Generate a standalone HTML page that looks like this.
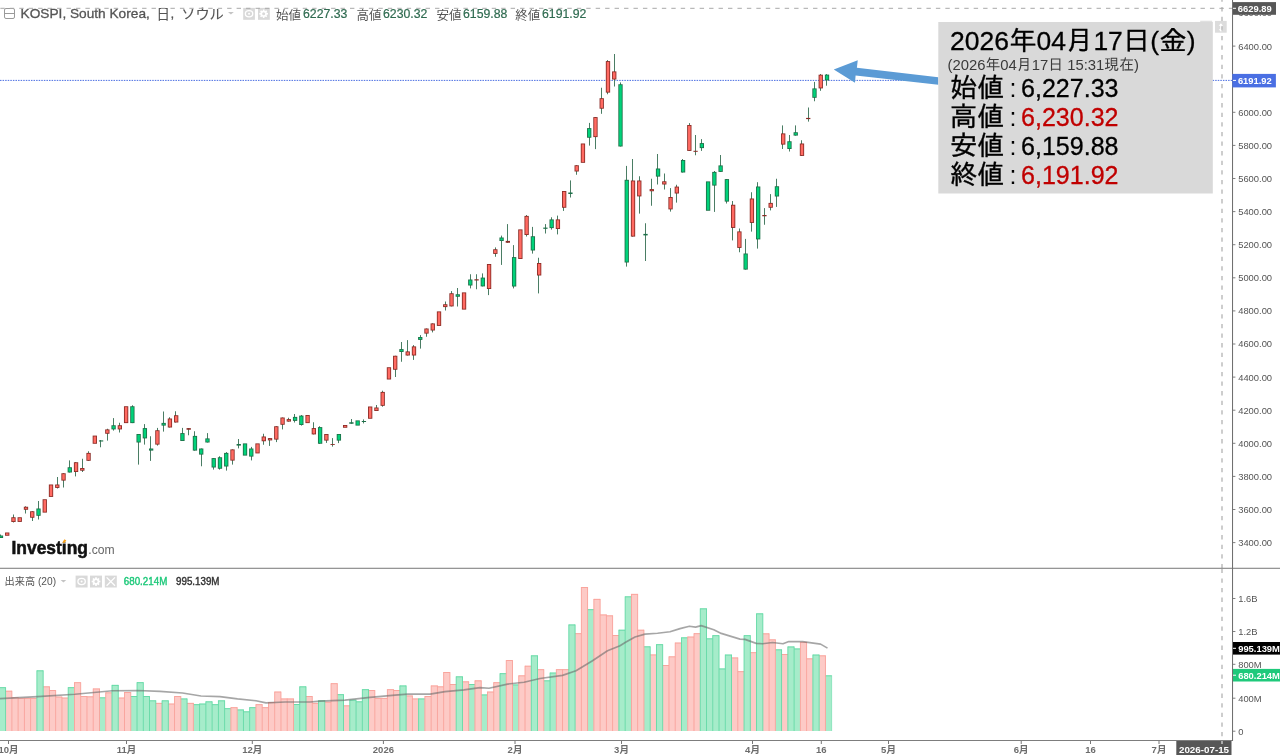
<!DOCTYPE html>
<html lang="ja"><head><meta charset="utf-8"><title>KOSPI</title>
<style>
html,body{margin:0;padding:0;background:#fff;}
body{width:1280px;height:755px;overflow:hidden;position:relative;font-family:"Liberation Sans","Noto Sans CJK JP",sans-serif;}
svg{position:absolute;left:0;top:0;display:block}
text{font-family:"Liberation Sans","Noto Sans CJK JP",sans-serif;}
.ax{font-size:9.4px;fill:#555}
.axb{font-size:9.4px;fill:#fff;font-weight:bold}
.tm{font-size:9.5px;fill:#6c6c6c;font-weight:bold;text-anchor:middle}
.lg{font-size:13.4px;fill:#555;stroke:#555;stroke-width:0.3px}
.lgk{font-size:12.4px;fill:#555}
.lgv{font-size:12px;fill:#2f6b50;stroke:#2f6b50;stroke-width:0.2px}
.box text{font-family:"Liberation Sans","IPAGothic",sans-serif;fill:#000}
.hv{stroke:currentColor;stroke-width:0.35px}
.k{font-family:"IPAGothic","Liberation Sans",sans-serif}
</style></head><body>
<svg width="1280" height="755" viewBox="0 0 1280 755">
<rect width="1280" height="755" fill="#fff"/>

<g id="vol">
<rect x="-0.65" y="687.25" width="6.26" height="43.75" fill="#a6ecca"/>
<rect x="5.61" y="690.75" width="6.26" height="40.25" fill="#fdcac6"/>
<rect x="11.87" y="697.40" width="6.26" height="33.60" fill="#fdcac6"/>
<rect x="18.12" y="697.90" width="6.26" height="33.10" fill="#fdcac6"/>
<rect x="24.38" y="697.90" width="6.26" height="33.10" fill="#fdcac6"/>
<rect x="30.64" y="697.90" width="6.26" height="33.10" fill="#fdcac6"/>
<rect x="36.90" y="670.40" width="6.26" height="60.60" fill="#a6ecca"/>
<rect x="43.16" y="686.40" width="6.26" height="44.60" fill="#fdcac6"/>
<rect x="49.41" y="690.10" width="6.26" height="40.90" fill="#fdcac6"/>
<rect x="55.67" y="696.60" width="6.26" height="34.40" fill="#fdcac6"/>
<rect x="61.93" y="697.60" width="6.26" height="33.40" fill="#fdcac6"/>
<rect x="68.19" y="687.25" width="6.26" height="43.75" fill="#a6ecca"/>
<rect x="74.45" y="682.25" width="6.26" height="48.75" fill="#fdcac6"/>
<rect x="80.70" y="696.00" width="6.26" height="35.00" fill="#fdcac6"/>
<rect x="86.96" y="696.40" width="6.26" height="34.60" fill="#fdcac6"/>
<rect x="93.22" y="688.50" width="6.26" height="42.50" fill="#fdcac6"/>
<rect x="99.48" y="697.40" width="6.26" height="33.60" fill="#a6ecca"/>
<rect x="105.74" y="692.40" width="6.26" height="38.60" fill="#fdcac6"/>
<rect x="111.99" y="684.90" width="6.26" height="46.10" fill="#a6ecca"/>
<rect x="118.25" y="697.60" width="6.26" height="33.40" fill="#fdcac6"/>
<rect x="124.51" y="692.00" width="6.26" height="39.00" fill="#fdcac6"/>
<rect x="130.77" y="696.10" width="6.26" height="34.90" fill="#a6ecca"/>
<rect x="137.03" y="682.25" width="6.26" height="48.75" fill="#a6ecca"/>
<rect x="143.28" y="696.10" width="6.26" height="34.90" fill="#a6ecca"/>
<rect x="149.54" y="700.40" width="6.26" height="30.60" fill="#a6ecca"/>
<rect x="155.80" y="702.90" width="6.26" height="28.10" fill="#fdcac6"/>
<rect x="162.06" y="700.40" width="6.26" height="30.60" fill="#a6ecca"/>
<rect x="168.32" y="703.60" width="6.26" height="27.40" fill="#fdcac6"/>
<rect x="174.57" y="696.10" width="6.26" height="34.90" fill="#fdcac6"/>
<rect x="180.83" y="698.50" width="6.26" height="32.50" fill="#a6ecca"/>
<rect x="187.09" y="702.90" width="6.26" height="28.10" fill="#fdcac6"/>
<rect x="193.35" y="704.25" width="6.26" height="26.75" fill="#a6ecca"/>
<rect x="199.61" y="703.60" width="6.26" height="27.40" fill="#a6ecca"/>
<rect x="205.86" y="701.40" width="6.26" height="29.60" fill="#a6ecca"/>
<rect x="212.12" y="704.25" width="6.26" height="26.75" fill="#a6ecca"/>
<rect x="218.38" y="700.40" width="6.26" height="30.60" fill="#a6ecca"/>
<rect x="224.64" y="708.25" width="6.26" height="22.75" fill="#a6ecca"/>
<rect x="230.90" y="707.25" width="6.26" height="23.75" fill="#fdcac6"/>
<rect x="237.15" y="709.50" width="6.26" height="21.50" fill="#a6ecca"/>
<rect x="243.41" y="711.40" width="6.26" height="19.60" fill="#a6ecca"/>
<rect x="249.67" y="707.25" width="6.26" height="23.75" fill="#a6ecca"/>
<rect x="255.93" y="704.25" width="6.26" height="26.75" fill="#fdcac6"/>
<rect x="262.19" y="707.25" width="6.26" height="23.75" fill="#fdcac6"/>
<rect x="268.44" y="702.00" width="6.26" height="29.00" fill="#fdcac6"/>
<rect x="274.70" y="691.60" width="6.26" height="39.40" fill="#fdcac6"/>
<rect x="280.96" y="698.50" width="6.26" height="32.50" fill="#fdcac6"/>
<rect x="287.22" y="698.50" width="6.26" height="32.50" fill="#fdcac6"/>
<rect x="293.48" y="704.10" width="6.26" height="26.90" fill="#a6ecca"/>
<rect x="299.73" y="686.40" width="6.26" height="44.60" fill="#a6ecca"/>
<rect x="305.99" y="696.10" width="6.26" height="34.90" fill="#fdcac6"/>
<rect x="312.25" y="702.90" width="6.26" height="28.10" fill="#fdcac6"/>
<rect x="318.51" y="700.40" width="6.26" height="30.60" fill="#a6ecca"/>
<rect x="324.77" y="701.75" width="6.26" height="29.25" fill="#fdcac6"/>
<rect x="331.02" y="683.25" width="6.26" height="47.75" fill="#fdcac6"/>
<rect x="337.28" y="694.25" width="6.26" height="36.75" fill="#a6ecca"/>
<rect x="343.54" y="705.40" width="6.26" height="25.60" fill="#fdcac6"/>
<rect x="349.80" y="699.75" width="6.26" height="31.25" fill="#a6ecca"/>
<rect x="356.06" y="701.40" width="6.26" height="29.60" fill="#a6ecca"/>
<rect x="362.31" y="689.25" width="6.26" height="41.75" fill="#a6ecca"/>
<rect x="368.57" y="690.10" width="6.26" height="40.90" fill="#fdcac6"/>
<rect x="374.83" y="697.90" width="6.26" height="33.10" fill="#fdcac6"/>
<rect x="381.09" y="697.90" width="6.26" height="33.10" fill="#fdcac6"/>
<rect x="387.35" y="689.25" width="6.26" height="41.75" fill="#fdcac6"/>
<rect x="393.60" y="690.10" width="6.26" height="40.90" fill="#fdcac6"/>
<rect x="399.86" y="685.50" width="6.26" height="45.50" fill="#a6ecca"/>
<rect x="406.12" y="695.50" width="6.26" height="35.50" fill="#fdcac6"/>
<rect x="412.38" y="698.50" width="6.26" height="32.50" fill="#fdcac6"/>
<rect x="418.64" y="698.50" width="6.26" height="32.50" fill="#a6ecca"/>
<rect x="424.89" y="696.10" width="6.26" height="34.90" fill="#fdcac6"/>
<rect x="431.15" y="685.50" width="6.26" height="45.50" fill="#fdcac6"/>
<rect x="437.41" y="686.40" width="6.26" height="44.60" fill="#fdcac6"/>
<rect x="443.67" y="672.00" width="6.26" height="59.00" fill="#fdcac6"/>
<rect x="449.93" y="684.10" width="6.26" height="46.90" fill="#fdcac6"/>
<rect x="456.18" y="676.40" width="6.26" height="54.60" fill="#a6ecca"/>
<rect x="462.44" y="681.40" width="6.26" height="49.60" fill="#fdcac6"/>
<rect x="468.70" y="684.10" width="6.26" height="46.90" fill="#a6ecca"/>
<rect x="474.96" y="680.40" width="6.26" height="50.60" fill="#fdcac6"/>
<rect x="481.22" y="694.50" width="6.26" height="36.50" fill="#a6ecca"/>
<rect x="487.47" y="691.60" width="6.26" height="39.40" fill="#fdcac6"/>
<rect x="493.73" y="682.25" width="6.26" height="48.75" fill="#fdcac6"/>
<rect x="499.99" y="673.25" width="6.26" height="57.75" fill="#a6ecca"/>
<rect x="506.25" y="660.10" width="6.26" height="70.90" fill="#fdcac6"/>
<rect x="512.51" y="684.50" width="6.26" height="46.50" fill="#a6ecca"/>
<rect x="518.76" y="675.40" width="6.26" height="55.60" fill="#fdcac6"/>
<rect x="525.02" y="665.75" width="6.26" height="65.25" fill="#fdcac6"/>
<rect x="531.28" y="655.40" width="6.26" height="75.60" fill="#a6ecca"/>
<rect x="537.54" y="669.25" width="6.26" height="61.75" fill="#fdcac6"/>
<rect x="543.80" y="680.40" width="6.26" height="50.60" fill="#a6ecca"/>
<rect x="550.05" y="672.60" width="6.26" height="58.40" fill="#a6ecca"/>
<rect x="556.31" y="669.25" width="6.26" height="61.75" fill="#fdcac6"/>
<rect x="562.57" y="669.25" width="6.26" height="61.75" fill="#fdcac6"/>
<rect x="568.83" y="624.50" width="6.26" height="106.50" fill="#a6ecca"/>
<rect x="575.09" y="633.25" width="6.26" height="97.75" fill="#fdcac6"/>
<rect x="581.34" y="587.00" width="6.26" height="144.00" fill="#fdcac6"/>
<rect x="587.60" y="609.25" width="6.26" height="121.75" fill="#a6ecca"/>
<rect x="593.86" y="598.90" width="6.26" height="132.10" fill="#fdcac6"/>
<rect x="600.12" y="614.50" width="6.26" height="116.50" fill="#fdcac6"/>
<rect x="606.38" y="615.40" width="6.26" height="115.60" fill="#fdcac6"/>
<rect x="612.63" y="635.10" width="6.26" height="95.90" fill="#fdcac6"/>
<rect x="618.89" y="629.75" width="6.26" height="101.25" fill="#a6ecca"/>
<rect x="625.15" y="596.40" width="6.26" height="134.60" fill="#a6ecca"/>
<rect x="631.41" y="593.90" width="6.26" height="137.10" fill="#fdcac6"/>
<rect x="637.67" y="629.75" width="6.26" height="101.25" fill="#fdcac6"/>
<rect x="643.92" y="646.40" width="6.26" height="84.60" fill="#a6ecca"/>
<rect x="650.18" y="654.50" width="6.26" height="76.50" fill="#fdcac6"/>
<rect x="656.44" y="644.25" width="6.26" height="86.75" fill="#a6ecca"/>
<rect x="662.70" y="665.10" width="6.26" height="65.90" fill="#fdcac6"/>
<rect x="668.96" y="656.40" width="6.26" height="74.60" fill="#fdcac6"/>
<rect x="675.21" y="642.60" width="6.26" height="88.40" fill="#fdcac6"/>
<rect x="681.47" y="637.40" width="6.26" height="93.60" fill="#a6ecca"/>
<rect x="687.73" y="636.60" width="6.26" height="94.40" fill="#fdcac6"/>
<rect x="693.99" y="633.25" width="6.26" height="97.75" fill="#fdcac6"/>
<rect x="700.25" y="608.40" width="6.26" height="122.60" fill="#a6ecca"/>
<rect x="706.50" y="638.40" width="6.26" height="92.60" fill="#a6ecca"/>
<rect x="712.76" y="635.25" width="6.26" height="95.75" fill="#a6ecca"/>
<rect x="719.02" y="668.50" width="6.26" height="62.50" fill="#a6ecca"/>
<rect x="725.28" y="654.60" width="6.26" height="76.40" fill="#a6ecca"/>
<rect x="731.54" y="657.50" width="6.26" height="73.50" fill="#fdcac6"/>
<rect x="737.79" y="671.25" width="6.26" height="59.75" fill="#fdcac6"/>
<rect x="744.05" y="635.25" width="6.26" height="95.75" fill="#a6ecca"/>
<rect x="750.31" y="652.25" width="6.26" height="78.75" fill="#fdcac6"/>
<rect x="756.57" y="613.40" width="6.26" height="117.60" fill="#a6ecca"/>
<rect x="762.83" y="633.40" width="6.26" height="97.60" fill="#fdcac6"/>
<rect x="769.08" y="639.40" width="6.26" height="91.60" fill="#fdcac6"/>
<rect x="775.34" y="649.40" width="6.26" height="81.60" fill="#a6ecca"/>
<rect x="781.60" y="654.10" width="6.26" height="76.90" fill="#fdcac6"/>
<rect x="787.86" y="646.50" width="6.26" height="84.50" fill="#a6ecca"/>
<rect x="794.12" y="648.50" width="6.26" height="82.50" fill="#a6ecca"/>
<rect x="800.37" y="641.90" width="6.26" height="89.10" fill="#fdcac6"/>
<rect x="806.63" y="658.40" width="6.26" height="72.60" fill="#fdcac6"/>
<rect x="812.89" y="654.60" width="6.26" height="76.40" fill="#a6ecca"/>
<rect x="819.15" y="655.40" width="6.26" height="75.60" fill="#fdcac6"/>
<rect x="825.41" y="675.40" width="6.26" height="55.60" fill="#a6ecca"/>
<rect x="-0.65" y="687.25" width="6.26" height="0.9" fill="#62d9a5"/>
<rect x="-1.10" y="687.25" width="0.9" height="43.75" fill="#62d9a5"/>
<rect x="5.61" y="690.75" width="6.26" height="0.9" fill="#f9a199"/>
<rect x="5.16" y="687.25" width="0.9" height="43.75" fill="#62d9a5"/>
<rect x="11.87" y="697.40" width="6.26" height="0.9" fill="#f9a199"/>
<rect x="11.42" y="690.75" width="0.9" height="40.25" fill="#f9a199"/>
<rect x="18.12" y="697.90" width="6.26" height="0.9" fill="#f9a199"/>
<rect x="17.67" y="697.40" width="0.9" height="33.60" fill="#f9a199"/>
<rect x="24.38" y="697.90" width="6.26" height="0.9" fill="#f9a199"/>
<rect x="23.93" y="697.90" width="0.9" height="33.10" fill="#f9a199"/>
<rect x="30.64" y="697.90" width="6.26" height="0.9" fill="#f9a199"/>
<rect x="30.19" y="697.90" width="0.9" height="33.10" fill="#f9a199"/>
<rect x="36.90" y="670.40" width="6.26" height="0.9" fill="#62d9a5"/>
<rect x="36.45" y="670.40" width="0.9" height="60.60" fill="#62d9a5"/>
<rect x="43.16" y="686.40" width="6.26" height="0.9" fill="#f9a199"/>
<rect x="42.71" y="670.40" width="0.9" height="60.60" fill="#62d9a5"/>
<rect x="49.41" y="690.10" width="6.26" height="0.9" fill="#f9a199"/>
<rect x="48.96" y="686.40" width="0.9" height="44.60" fill="#f9a199"/>
<rect x="55.67" y="696.60" width="6.26" height="0.9" fill="#f9a199"/>
<rect x="55.22" y="690.10" width="0.9" height="40.90" fill="#f9a199"/>
<rect x="61.93" y="697.60" width="6.26" height="0.9" fill="#f9a199"/>
<rect x="61.48" y="696.60" width="0.9" height="34.40" fill="#f9a199"/>
<rect x="68.19" y="687.25" width="6.26" height="0.9" fill="#62d9a5"/>
<rect x="67.74" y="687.25" width="0.9" height="43.75" fill="#62d9a5"/>
<rect x="74.45" y="682.25" width="6.26" height="0.9" fill="#f9a199"/>
<rect x="74.00" y="682.25" width="0.9" height="48.75" fill="#f9a199"/>
<rect x="80.70" y="696.00" width="6.26" height="0.9" fill="#f9a199"/>
<rect x="80.25" y="682.25" width="0.9" height="48.75" fill="#f9a199"/>
<rect x="86.96" y="696.40" width="6.26" height="0.9" fill="#f9a199"/>
<rect x="86.51" y="696.00" width="0.9" height="35.00" fill="#f9a199"/>
<rect x="93.22" y="688.50" width="6.26" height="0.9" fill="#f9a199"/>
<rect x="92.77" y="688.50" width="0.9" height="42.50" fill="#f9a199"/>
<rect x="99.48" y="697.40" width="6.26" height="0.9" fill="#62d9a5"/>
<rect x="99.03" y="688.50" width="0.9" height="42.50" fill="#f9a199"/>
<rect x="105.74" y="692.40" width="6.26" height="0.9" fill="#f9a199"/>
<rect x="105.29" y="692.40" width="0.9" height="38.60" fill="#f9a199"/>
<rect x="111.99" y="684.90" width="6.26" height="0.9" fill="#62d9a5"/>
<rect x="111.54" y="684.90" width="0.9" height="46.10" fill="#62d9a5"/>
<rect x="118.25" y="697.60" width="6.26" height="0.9" fill="#f9a199"/>
<rect x="117.80" y="684.90" width="0.9" height="46.10" fill="#62d9a5"/>
<rect x="124.51" y="692.00" width="6.26" height="0.9" fill="#f9a199"/>
<rect x="124.06" y="692.00" width="0.9" height="39.00" fill="#f9a199"/>
<rect x="130.77" y="696.10" width="6.26" height="0.9" fill="#62d9a5"/>
<rect x="130.32" y="692.00" width="0.9" height="39.00" fill="#f9a199"/>
<rect x="137.03" y="682.25" width="6.26" height="0.9" fill="#62d9a5"/>
<rect x="136.58" y="682.25" width="0.9" height="48.75" fill="#62d9a5"/>
<rect x="143.28" y="696.10" width="6.26" height="0.9" fill="#62d9a5"/>
<rect x="142.83" y="682.25" width="0.9" height="48.75" fill="#62d9a5"/>
<rect x="149.54" y="700.40" width="6.26" height="0.9" fill="#62d9a5"/>
<rect x="149.09" y="696.10" width="0.9" height="34.90" fill="#62d9a5"/>
<rect x="155.80" y="702.90" width="6.26" height="0.9" fill="#f9a199"/>
<rect x="155.35" y="700.40" width="0.9" height="30.60" fill="#62d9a5"/>
<rect x="162.06" y="700.40" width="6.26" height="0.9" fill="#62d9a5"/>
<rect x="161.61" y="700.40" width="0.9" height="30.60" fill="#62d9a5"/>
<rect x="168.32" y="703.60" width="6.26" height="0.9" fill="#f9a199"/>
<rect x="167.87" y="700.40" width="0.9" height="30.60" fill="#62d9a5"/>
<rect x="174.57" y="696.10" width="6.26" height="0.9" fill="#f9a199"/>
<rect x="174.12" y="696.10" width="0.9" height="34.90" fill="#f9a199"/>
<rect x="180.83" y="698.50" width="6.26" height="0.9" fill="#62d9a5"/>
<rect x="180.38" y="696.10" width="0.9" height="34.90" fill="#f9a199"/>
<rect x="187.09" y="702.90" width="6.26" height="0.9" fill="#f9a199"/>
<rect x="186.64" y="698.50" width="0.9" height="32.50" fill="#62d9a5"/>
<rect x="193.35" y="704.25" width="6.26" height="0.9" fill="#62d9a5"/>
<rect x="192.90" y="702.90" width="0.9" height="28.10" fill="#f9a199"/>
<rect x="199.61" y="703.60" width="6.26" height="0.9" fill="#62d9a5"/>
<rect x="199.16" y="703.60" width="0.9" height="27.40" fill="#62d9a5"/>
<rect x="205.86" y="701.40" width="6.26" height="0.9" fill="#62d9a5"/>
<rect x="205.41" y="701.40" width="0.9" height="29.60" fill="#62d9a5"/>
<rect x="212.12" y="704.25" width="6.26" height="0.9" fill="#62d9a5"/>
<rect x="211.67" y="701.40" width="0.9" height="29.60" fill="#62d9a5"/>
<rect x="218.38" y="700.40" width="6.26" height="0.9" fill="#62d9a5"/>
<rect x="217.93" y="700.40" width="0.9" height="30.60" fill="#62d9a5"/>
<rect x="224.64" y="708.25" width="6.26" height="0.9" fill="#62d9a5"/>
<rect x="224.19" y="700.40" width="0.9" height="30.60" fill="#62d9a5"/>
<rect x="230.90" y="707.25" width="6.26" height="0.9" fill="#f9a199"/>
<rect x="230.45" y="707.25" width="0.9" height="23.75" fill="#f9a199"/>
<rect x="237.15" y="709.50" width="6.26" height="0.9" fill="#62d9a5"/>
<rect x="236.70" y="707.25" width="0.9" height="23.75" fill="#f9a199"/>
<rect x="243.41" y="711.40" width="6.26" height="0.9" fill="#62d9a5"/>
<rect x="242.96" y="709.50" width="0.9" height="21.50" fill="#62d9a5"/>
<rect x="249.67" y="707.25" width="6.26" height="0.9" fill="#62d9a5"/>
<rect x="249.22" y="707.25" width="0.9" height="23.75" fill="#62d9a5"/>
<rect x="255.93" y="704.25" width="6.26" height="0.9" fill="#f9a199"/>
<rect x="255.48" y="704.25" width="0.9" height="26.75" fill="#f9a199"/>
<rect x="262.19" y="707.25" width="6.26" height="0.9" fill="#f9a199"/>
<rect x="261.74" y="704.25" width="0.9" height="26.75" fill="#f9a199"/>
<rect x="268.44" y="702.00" width="6.26" height="0.9" fill="#f9a199"/>
<rect x="267.99" y="702.00" width="0.9" height="29.00" fill="#f9a199"/>
<rect x="274.70" y="691.60" width="6.26" height="0.9" fill="#f9a199"/>
<rect x="274.25" y="691.60" width="0.9" height="39.40" fill="#f9a199"/>
<rect x="280.96" y="698.50" width="6.26" height="0.9" fill="#f9a199"/>
<rect x="280.51" y="691.60" width="0.9" height="39.40" fill="#f9a199"/>
<rect x="287.22" y="698.50" width="6.26" height="0.9" fill="#f9a199"/>
<rect x="286.77" y="698.50" width="0.9" height="32.50" fill="#f9a199"/>
<rect x="293.48" y="704.10" width="6.26" height="0.9" fill="#62d9a5"/>
<rect x="293.03" y="698.50" width="0.9" height="32.50" fill="#f9a199"/>
<rect x="299.73" y="686.40" width="6.26" height="0.9" fill="#62d9a5"/>
<rect x="299.28" y="686.40" width="0.9" height="44.60" fill="#62d9a5"/>
<rect x="305.99" y="696.10" width="6.26" height="0.9" fill="#f9a199"/>
<rect x="305.54" y="686.40" width="0.9" height="44.60" fill="#62d9a5"/>
<rect x="312.25" y="702.90" width="6.26" height="0.9" fill="#f9a199"/>
<rect x="311.80" y="696.10" width="0.9" height="34.90" fill="#f9a199"/>
<rect x="318.51" y="700.40" width="6.26" height="0.9" fill="#62d9a5"/>
<rect x="318.06" y="700.40" width="0.9" height="30.60" fill="#62d9a5"/>
<rect x="324.77" y="701.75" width="6.26" height="0.9" fill="#f9a199"/>
<rect x="324.32" y="700.40" width="0.9" height="30.60" fill="#62d9a5"/>
<rect x="331.02" y="683.25" width="6.26" height="0.9" fill="#f9a199"/>
<rect x="330.57" y="683.25" width="0.9" height="47.75" fill="#f9a199"/>
<rect x="337.28" y="694.25" width="6.26" height="0.9" fill="#62d9a5"/>
<rect x="336.83" y="683.25" width="0.9" height="47.75" fill="#f9a199"/>
<rect x="343.54" y="705.40" width="6.26" height="0.9" fill="#f9a199"/>
<rect x="343.09" y="694.25" width="0.9" height="36.75" fill="#62d9a5"/>
<rect x="349.80" y="699.75" width="6.26" height="0.9" fill="#62d9a5"/>
<rect x="349.35" y="699.75" width="0.9" height="31.25" fill="#62d9a5"/>
<rect x="356.06" y="701.40" width="6.26" height="0.9" fill="#62d9a5"/>
<rect x="355.61" y="699.75" width="0.9" height="31.25" fill="#62d9a5"/>
<rect x="362.31" y="689.25" width="6.26" height="0.9" fill="#62d9a5"/>
<rect x="361.86" y="689.25" width="0.9" height="41.75" fill="#62d9a5"/>
<rect x="368.57" y="690.10" width="6.26" height="0.9" fill="#f9a199"/>
<rect x="368.12" y="689.25" width="0.9" height="41.75" fill="#62d9a5"/>
<rect x="374.83" y="697.90" width="6.26" height="0.9" fill="#f9a199"/>
<rect x="374.38" y="690.10" width="0.9" height="40.90" fill="#f9a199"/>
<rect x="381.09" y="697.90" width="6.26" height="0.9" fill="#f9a199"/>
<rect x="380.64" y="697.90" width="0.9" height="33.10" fill="#f9a199"/>
<rect x="387.35" y="689.25" width="6.26" height="0.9" fill="#f9a199"/>
<rect x="386.90" y="689.25" width="0.9" height="41.75" fill="#f9a199"/>
<rect x="393.60" y="690.10" width="6.26" height="0.9" fill="#f9a199"/>
<rect x="393.15" y="689.25" width="0.9" height="41.75" fill="#f9a199"/>
<rect x="399.86" y="685.50" width="6.26" height="0.9" fill="#62d9a5"/>
<rect x="399.41" y="685.50" width="0.9" height="45.50" fill="#62d9a5"/>
<rect x="406.12" y="695.50" width="6.26" height="0.9" fill="#f9a199"/>
<rect x="405.67" y="685.50" width="0.9" height="45.50" fill="#62d9a5"/>
<rect x="412.38" y="698.50" width="6.26" height="0.9" fill="#f9a199"/>
<rect x="411.93" y="695.50" width="0.9" height="35.50" fill="#f9a199"/>
<rect x="418.64" y="698.50" width="6.26" height="0.9" fill="#62d9a5"/>
<rect x="418.19" y="698.50" width="0.9" height="32.50" fill="#62d9a5"/>
<rect x="424.89" y="696.10" width="6.26" height="0.9" fill="#f9a199"/>
<rect x="424.44" y="696.10" width="0.9" height="34.90" fill="#f9a199"/>
<rect x="431.15" y="685.50" width="6.26" height="0.9" fill="#f9a199"/>
<rect x="430.70" y="685.50" width="0.9" height="45.50" fill="#f9a199"/>
<rect x="437.41" y="686.40" width="6.26" height="0.9" fill="#f9a199"/>
<rect x="436.96" y="685.50" width="0.9" height="45.50" fill="#f9a199"/>
<rect x="443.67" y="672.00" width="6.26" height="0.9" fill="#f9a199"/>
<rect x="443.22" y="672.00" width="0.9" height="59.00" fill="#f9a199"/>
<rect x="449.93" y="684.10" width="6.26" height="0.9" fill="#f9a199"/>
<rect x="449.48" y="672.00" width="0.9" height="59.00" fill="#f9a199"/>
<rect x="456.18" y="676.40" width="6.26" height="0.9" fill="#62d9a5"/>
<rect x="455.73" y="676.40" width="0.9" height="54.60" fill="#62d9a5"/>
<rect x="462.44" y="681.40" width="6.26" height="0.9" fill="#f9a199"/>
<rect x="461.99" y="676.40" width="0.9" height="54.60" fill="#62d9a5"/>
<rect x="468.70" y="684.10" width="6.26" height="0.9" fill="#62d9a5"/>
<rect x="468.25" y="681.40" width="0.9" height="49.60" fill="#f9a199"/>
<rect x="474.96" y="680.40" width="6.26" height="0.9" fill="#f9a199"/>
<rect x="474.51" y="680.40" width="0.9" height="50.60" fill="#f9a199"/>
<rect x="481.22" y="694.50" width="6.26" height="0.9" fill="#62d9a5"/>
<rect x="480.77" y="680.40" width="0.9" height="50.60" fill="#f9a199"/>
<rect x="487.47" y="691.60" width="6.26" height="0.9" fill="#f9a199"/>
<rect x="487.02" y="691.60" width="0.9" height="39.40" fill="#f9a199"/>
<rect x="493.73" y="682.25" width="6.26" height="0.9" fill="#f9a199"/>
<rect x="493.28" y="682.25" width="0.9" height="48.75" fill="#f9a199"/>
<rect x="499.99" y="673.25" width="6.26" height="0.9" fill="#62d9a5"/>
<rect x="499.54" y="673.25" width="0.9" height="57.75" fill="#62d9a5"/>
<rect x="506.25" y="660.10" width="6.26" height="0.9" fill="#f9a199"/>
<rect x="505.80" y="660.10" width="0.9" height="70.90" fill="#f9a199"/>
<rect x="512.51" y="684.50" width="6.26" height="0.9" fill="#62d9a5"/>
<rect x="512.06" y="660.10" width="0.9" height="70.90" fill="#f9a199"/>
<rect x="518.76" y="675.40" width="6.26" height="0.9" fill="#f9a199"/>
<rect x="518.31" y="675.40" width="0.9" height="55.60" fill="#f9a199"/>
<rect x="525.02" y="665.75" width="6.26" height="0.9" fill="#f9a199"/>
<rect x="524.57" y="665.75" width="0.9" height="65.25" fill="#f9a199"/>
<rect x="531.28" y="655.40" width="6.26" height="0.9" fill="#62d9a5"/>
<rect x="530.83" y="655.40" width="0.9" height="75.60" fill="#62d9a5"/>
<rect x="537.54" y="669.25" width="6.26" height="0.9" fill="#f9a199"/>
<rect x="537.09" y="655.40" width="0.9" height="75.60" fill="#62d9a5"/>
<rect x="543.80" y="680.40" width="6.26" height="0.9" fill="#62d9a5"/>
<rect x="543.35" y="669.25" width="0.9" height="61.75" fill="#f9a199"/>
<rect x="550.05" y="672.60" width="6.26" height="0.9" fill="#62d9a5"/>
<rect x="549.60" y="672.60" width="0.9" height="58.40" fill="#62d9a5"/>
<rect x="556.31" y="669.25" width="6.26" height="0.9" fill="#f9a199"/>
<rect x="555.86" y="669.25" width="0.9" height="61.75" fill="#f9a199"/>
<rect x="562.57" y="669.25" width="6.26" height="0.9" fill="#f9a199"/>
<rect x="562.12" y="669.25" width="0.9" height="61.75" fill="#f9a199"/>
<rect x="568.83" y="624.50" width="6.26" height="0.9" fill="#62d9a5"/>
<rect x="568.38" y="624.50" width="0.9" height="106.50" fill="#62d9a5"/>
<rect x="575.09" y="633.25" width="6.26" height="0.9" fill="#f9a199"/>
<rect x="574.64" y="624.50" width="0.9" height="106.50" fill="#62d9a5"/>
<rect x="581.34" y="587.00" width="6.26" height="0.9" fill="#f9a199"/>
<rect x="580.89" y="587.00" width="0.9" height="144.00" fill="#f9a199"/>
<rect x="587.60" y="609.25" width="6.26" height="0.9" fill="#62d9a5"/>
<rect x="587.15" y="587.00" width="0.9" height="144.00" fill="#f9a199"/>
<rect x="593.86" y="598.90" width="6.26" height="0.9" fill="#f9a199"/>
<rect x="593.41" y="598.90" width="0.9" height="132.10" fill="#f9a199"/>
<rect x="600.12" y="614.50" width="6.26" height="0.9" fill="#f9a199"/>
<rect x="599.67" y="598.90" width="0.9" height="132.10" fill="#f9a199"/>
<rect x="606.38" y="615.40" width="6.26" height="0.9" fill="#f9a199"/>
<rect x="605.93" y="614.50" width="0.9" height="116.50" fill="#f9a199"/>
<rect x="612.63" y="635.10" width="6.26" height="0.9" fill="#f9a199"/>
<rect x="612.18" y="615.40" width="0.9" height="115.60" fill="#f9a199"/>
<rect x="618.89" y="629.75" width="6.26" height="0.9" fill="#62d9a5"/>
<rect x="618.44" y="629.75" width="0.9" height="101.25" fill="#62d9a5"/>
<rect x="625.15" y="596.40" width="6.26" height="0.9" fill="#62d9a5"/>
<rect x="624.70" y="596.40" width="0.9" height="134.60" fill="#62d9a5"/>
<rect x="631.41" y="593.90" width="6.26" height="0.9" fill="#f9a199"/>
<rect x="630.96" y="593.90" width="0.9" height="137.10" fill="#f9a199"/>
<rect x="637.67" y="629.75" width="6.26" height="0.9" fill="#f9a199"/>
<rect x="637.22" y="593.90" width="0.9" height="137.10" fill="#f9a199"/>
<rect x="643.92" y="646.40" width="6.26" height="0.9" fill="#62d9a5"/>
<rect x="643.47" y="629.75" width="0.9" height="101.25" fill="#f9a199"/>
<rect x="650.18" y="654.50" width="6.26" height="0.9" fill="#f9a199"/>
<rect x="649.73" y="646.40" width="0.9" height="84.60" fill="#62d9a5"/>
<rect x="656.44" y="644.25" width="6.26" height="0.9" fill="#62d9a5"/>
<rect x="655.99" y="644.25" width="0.9" height="86.75" fill="#62d9a5"/>
<rect x="662.70" y="665.10" width="6.26" height="0.9" fill="#f9a199"/>
<rect x="662.25" y="644.25" width="0.9" height="86.75" fill="#62d9a5"/>
<rect x="668.96" y="656.40" width="6.26" height="0.9" fill="#f9a199"/>
<rect x="668.51" y="656.40" width="0.9" height="74.60" fill="#f9a199"/>
<rect x="675.21" y="642.60" width="6.26" height="0.9" fill="#f9a199"/>
<rect x="674.76" y="642.60" width="0.9" height="88.40" fill="#f9a199"/>
<rect x="681.47" y="637.40" width="6.26" height="0.9" fill="#62d9a5"/>
<rect x="681.02" y="637.40" width="0.9" height="93.60" fill="#62d9a5"/>
<rect x="687.73" y="636.60" width="6.26" height="0.9" fill="#f9a199"/>
<rect x="687.28" y="636.60" width="0.9" height="94.40" fill="#f9a199"/>
<rect x="693.99" y="633.25" width="6.26" height="0.9" fill="#f9a199"/>
<rect x="693.54" y="633.25" width="0.9" height="97.75" fill="#f9a199"/>
<rect x="700.25" y="608.40" width="6.26" height="0.9" fill="#62d9a5"/>
<rect x="699.80" y="608.40" width="0.9" height="122.60" fill="#62d9a5"/>
<rect x="706.50" y="638.40" width="6.26" height="0.9" fill="#62d9a5"/>
<rect x="706.05" y="608.40" width="0.9" height="122.60" fill="#62d9a5"/>
<rect x="712.76" y="635.25" width="6.26" height="0.9" fill="#62d9a5"/>
<rect x="712.31" y="635.25" width="0.9" height="95.75" fill="#62d9a5"/>
<rect x="719.02" y="668.50" width="6.26" height="0.9" fill="#62d9a5"/>
<rect x="718.57" y="635.25" width="0.9" height="95.75" fill="#62d9a5"/>
<rect x="725.28" y="654.60" width="6.26" height="0.9" fill="#62d9a5"/>
<rect x="724.83" y="654.60" width="0.9" height="76.40" fill="#62d9a5"/>
<rect x="731.54" y="657.50" width="6.26" height="0.9" fill="#f9a199"/>
<rect x="731.09" y="654.60" width="0.9" height="76.40" fill="#62d9a5"/>
<rect x="737.79" y="671.25" width="6.26" height="0.9" fill="#f9a199"/>
<rect x="737.34" y="657.50" width="0.9" height="73.50" fill="#f9a199"/>
<rect x="744.05" y="635.25" width="6.26" height="0.9" fill="#62d9a5"/>
<rect x="743.60" y="635.25" width="0.9" height="95.75" fill="#62d9a5"/>
<rect x="750.31" y="652.25" width="6.26" height="0.9" fill="#f9a199"/>
<rect x="749.86" y="635.25" width="0.9" height="95.75" fill="#62d9a5"/>
<rect x="756.57" y="613.40" width="6.26" height="0.9" fill="#62d9a5"/>
<rect x="756.12" y="613.40" width="0.9" height="117.60" fill="#62d9a5"/>
<rect x="762.83" y="633.40" width="6.26" height="0.9" fill="#f9a199"/>
<rect x="762.38" y="613.40" width="0.9" height="117.60" fill="#62d9a5"/>
<rect x="769.08" y="639.40" width="6.26" height="0.9" fill="#f9a199"/>
<rect x="768.63" y="633.40" width="0.9" height="97.60" fill="#f9a199"/>
<rect x="775.34" y="649.40" width="6.26" height="0.9" fill="#62d9a5"/>
<rect x="774.89" y="639.40" width="0.9" height="91.60" fill="#f9a199"/>
<rect x="781.60" y="654.10" width="6.26" height="0.9" fill="#f9a199"/>
<rect x="781.15" y="649.40" width="0.9" height="81.60" fill="#62d9a5"/>
<rect x="787.86" y="646.50" width="6.26" height="0.9" fill="#62d9a5"/>
<rect x="787.41" y="646.50" width="0.9" height="84.50" fill="#62d9a5"/>
<rect x="794.12" y="648.50" width="6.26" height="0.9" fill="#62d9a5"/>
<rect x="793.67" y="646.50" width="0.9" height="84.50" fill="#62d9a5"/>
<rect x="800.37" y="641.90" width="6.26" height="0.9" fill="#f9a199"/>
<rect x="799.92" y="641.90" width="0.9" height="89.10" fill="#f9a199"/>
<rect x="806.63" y="658.40" width="6.26" height="0.9" fill="#f9a199"/>
<rect x="806.18" y="641.90" width="0.9" height="89.10" fill="#f9a199"/>
<rect x="812.89" y="654.60" width="6.26" height="0.9" fill="#62d9a5"/>
<rect x="812.44" y="654.60" width="0.9" height="76.40" fill="#62d9a5"/>
<rect x="819.15" y="655.40" width="6.26" height="0.9" fill="#f9a199"/>
<rect x="818.70" y="654.60" width="0.9" height="76.40" fill="#62d9a5"/>
<rect x="825.41" y="675.40" width="6.26" height="0.9" fill="#62d9a5"/>
<rect x="824.96" y="655.40" width="0.9" height="75.60" fill="#f9a199"/>
<rect x="831.21" y="675.40" width="0.9" height="55.60" fill="#62d9a5" fill-opacity="0.6"/>
</g>
<polyline points="0.0,698.6 37.5,696.6 75.0,694.2 112.5,690.8 137.5,690.5 160.0,691.4 182.5,693.0 201.0,696.0 220.0,696.6 237.5,698.9 256.0,700.8 266.0,702.9 285.0,702.0 310.0,702.0 320.0,701.1 345.0,700.1 370.0,697.4 395.0,695.1 407.5,694.1 430.0,694.1 445.0,691.6 464.0,689.9 480.0,687.6 489.0,688.2 507.5,684.1 524.0,682.2 540.0,678.5 562.5,675.4 576.0,670.8 592.5,660.8 607.5,650.8 620.0,645.8 626.0,642.0 635.0,637.0 645.0,634.1 657.5,633.2 670.0,631.8 680.0,628.6 689.4,626.2 695.6,627.1 701.2,625.6 713.8,629.8 721.2,633.4 740.0,639.1 745.0,639.4 756.2,643.4 762.5,643.8 772.5,642.5 783.0,643.8 788.8,641.6 802.5,641.6 820.6,644.1 827.5,648.1" fill="none" stroke="#6a6a6a" stroke-opacity="0.6" stroke-width="1.65" stroke-linejoin="round"/>
<line x1="0" y1="80.4" x2="1232" y2="80.4" stroke="#4a6ee2" stroke-width="1" stroke-dasharray="1.5 1.08"/>
<g id="candles">
<rect x="0" y="534.50" width="1" height="3.50" fill="#4a7d64"/>
<rect x="-1.20" y="535.50" width="4.3" height="2.50" fill="#1c7048"/>
<rect x="-0.34" y="536.36" width="2.58" height="0.78" fill="#00d27a"/>
<rect x="5.06" y="532.50" width="4.3" height="3.25" fill="#8a2b25"/>
<rect x="5.92" y="533.36" width="2.58" height="1.53" fill="#ff6a62"/>
<rect x="13" y="514.50" width="1" height="8.00" fill="#4a7d64"/>
<rect x="11.32" y="517.25" width="4.3" height="4.75" fill="#8a2b25"/>
<rect x="12.18" y="518.11" width="2.58" height="3.03" fill="#ff6a62"/>
<rect x="17.57" y="517.25" width="4.3" height="4.65" fill="#8a2b25"/>
<rect x="18.43" y="518.11" width="2.58" height="2.93" fill="#ff6a62"/>
<rect x="25" y="506.25" width="1" height="7.25" fill="#4a7d64"/>
<rect x="23.83" y="506.75" width="4.3" height="3.00" fill="#8a2b25"/>
<rect x="24.69" y="507.61" width="2.58" height="1.28" fill="#ff6a62"/>
<rect x="32" y="511.25" width="1" height="9.75" fill="#4a7d64"/>
<rect x="30.09" y="511.25" width="4.3" height="6.50" fill="#8a2b25"/>
<rect x="30.95" y="512.11" width="2.58" height="4.78" fill="#ff6a62"/>
<rect x="38" y="501.00" width="1" height="18.50" fill="#4a7d64"/>
<rect x="36.35" y="508.50" width="4.3" height="7.30" fill="#1c7048"/>
<rect x="37.21" y="509.36" width="2.58" height="5.58" fill="#00d27a"/>
<rect x="42.61" y="499.25" width="4.3" height="13.35" fill="#8a2b25"/>
<rect x="43.47" y="500.11" width="2.58" height="11.63" fill="#ff6a62"/>
<rect x="48.86" y="484.50" width="4.3" height="12.40" fill="#8a2b25"/>
<rect x="49.72" y="485.36" width="2.58" height="10.68" fill="#ff6a62"/>
<rect x="57" y="477.00" width="1" height="11.50" fill="#4a7d64"/>
<rect x="55.12" y="484.50" width="4.3" height="3.40" fill="#8a2b25"/>
<rect x="55.98" y="485.36" width="2.58" height="1.68" fill="#ff6a62"/>
<rect x="63" y="473.25" width="1" height="14.25" fill="#4a7d64"/>
<rect x="61.38" y="473.25" width="4.3" height="7.35" fill="#8a2b25"/>
<rect x="62.24" y="474.11" width="2.58" height="5.63" fill="#ff6a62"/>
<rect x="69" y="460.40" width="1" height="12.10" fill="#4a7d64"/>
<rect x="67.64" y="467.25" width="4.3" height="5.25" fill="#1c7048"/>
<rect x="68.50" y="468.11" width="2.58" height="3.53" fill="#00d27a"/>
<rect x="75" y="462.25" width="1" height="14.15" fill="#4a7d64"/>
<rect x="73.90" y="462.25" width="4.3" height="9.75" fill="#8a2b25"/>
<rect x="74.76" y="463.11" width="2.58" height="8.03" fill="#ff6a62"/>
<rect x="82" y="458.75" width="1" height="13.25" fill="#4a7d64"/>
<rect x="80.15" y="468.00" width="4.3" height="2.70" fill="#8a2b25"/>
<rect x="81.01" y="468.86" width="2.58" height="0.98" fill="#ff6a62"/>
<rect x="88" y="451.25" width="1" height="9.55" fill="#4a7d64"/>
<rect x="86.41" y="452.90" width="4.3" height="7.90" fill="#8a2b25"/>
<rect x="87.27" y="453.76" width="2.58" height="6.18" fill="#ff6a62"/>
<rect x="92.67" y="435.60" width="4.3" height="8.15" fill="#8a2b25"/>
<rect x="93.53" y="436.46" width="2.58" height="6.43" fill="#ff6a62"/>
<rect x="100" y="440.00" width="1" height="7.25" fill="#4a7d64"/>
<rect x="98.93" y="440.40" width="4.3" height="1.10" fill="#1c7048"/>
<rect x="107" y="428.75" width="1" height="11.85" fill="#4a7d64"/>
<rect x="105.19" y="429.40" width="4.3" height="4.35" fill="#8a2b25"/>
<rect x="106.05" y="430.26" width="2.58" height="2.63" fill="#ff6a62"/>
<rect x="113" y="418.10" width="1" height="12.50" fill="#4a7d64"/>
<rect x="111.44" y="425.25" width="4.3" height="4.15" fill="#1c7048"/>
<rect x="112.30" y="426.11" width="2.58" height="2.43" fill="#00d27a"/>
<rect x="119" y="422.75" width="1" height="9.75" fill="#4a7d64"/>
<rect x="117.70" y="425.25" width="4.3" height="4.15" fill="#8a2b25"/>
<rect x="118.56" y="426.11" width="2.58" height="2.43" fill="#ff6a62"/>
<rect x="123.96" y="406.25" width="4.3" height="16.85" fill="#8a2b25"/>
<rect x="124.82" y="407.11" width="2.58" height="15.13" fill="#ff6a62"/>
<rect x="132" y="405.25" width="1" height="17.85" fill="#4a7d64"/>
<rect x="130.22" y="406.25" width="4.3" height="16.85" fill="#1c7048"/>
<rect x="131.08" y="407.11" width="2.58" height="15.13" fill="#00d27a"/>
<rect x="138" y="434.00" width="1" height="30.60" fill="#4a7d64"/>
<rect x="136.48" y="434.00" width="4.3" height="8.50" fill="#1c7048"/>
<rect x="137.34" y="434.86" width="2.58" height="6.78" fill="#00d27a"/>
<rect x="144" y="424.10" width="1" height="20.50" fill="#4a7d64"/>
<rect x="142.73" y="428.10" width="4.3" height="10.30" fill="#1c7048"/>
<rect x="143.59" y="428.96" width="2.58" height="8.58" fill="#00d27a"/>
<rect x="150" y="436.25" width="1" height="24.65" fill="#4a7d64"/>
<rect x="148.99" y="448.50" width="4.3" height="2.10" fill="#1c7048"/>
<rect x="149.85" y="449.36" width="2.58" height="0.38" fill="#00d27a"/>
<rect x="157" y="427.90" width="1" height="17.70" fill="#4a7d64"/>
<rect x="155.25" y="430.25" width="4.3" height="14.35" fill="#8a2b25"/>
<rect x="156.11" y="431.11" width="2.58" height="12.63" fill="#ff6a62"/>
<rect x="163" y="411.50" width="1" height="20.10" fill="#4a7d64"/>
<rect x="161.51" y="422.90" width="4.3" height="2.70" fill="#1c7048"/>
<rect x="162.37" y="423.76" width="2.58" height="0.98" fill="#00d27a"/>
<rect x="169" y="417.25" width="1" height="10.25" fill="#4a7d64"/>
<rect x="167.77" y="418.50" width="4.3" height="9.00" fill="#8a2b25"/>
<rect x="168.63" y="419.36" width="2.58" height="7.28" fill="#ff6a62"/>
<rect x="175" y="411.25" width="1" height="11.25" fill="#4a7d64"/>
<rect x="174.02" y="415.25" width="4.3" height="7.25" fill="#8a2b25"/>
<rect x="174.88" y="416.11" width="2.58" height="5.53" fill="#ff6a62"/>
<rect x="182" y="427.90" width="1" height="13.10" fill="#4a7d64"/>
<rect x="180.28" y="433.10" width="4.3" height="7.90" fill="#1c7048"/>
<rect x="181.14" y="433.96" width="2.58" height="6.18" fill="#00d27a"/>
<rect x="188" y="428.10" width="1" height="7.15" fill="#4a7d64"/>
<rect x="186.54" y="428.10" width="4.3" height="1.65" fill="#8a2b25"/>
<rect x="194" y="431.25" width="1" height="19.35" fill="#4a7d64"/>
<rect x="192.80" y="435.90" width="4.3" height="14.70" fill="#1c7048"/>
<rect x="193.66" y="436.76" width="2.58" height="12.98" fill="#00d27a"/>
<rect x="201" y="448.50" width="1" height="17.75" fill="#4a7d64"/>
<rect x="199.06" y="448.50" width="4.3" height="6.10" fill="#1c7048"/>
<rect x="199.92" y="449.36" width="2.58" height="4.38" fill="#00d27a"/>
<rect x="207" y="433.10" width="1" height="9.40" fill="#4a7d64"/>
<rect x="205.31" y="438.40" width="4.3" height="4.10" fill="#1c7048"/>
<rect x="206.17" y="439.26" width="2.58" height="2.38" fill="#00d27a"/>
<rect x="213" y="458.10" width="1" height="11.50" fill="#4a7d64"/>
<rect x="211.57" y="458.10" width="4.3" height="9.40" fill="#1c7048"/>
<rect x="212.43" y="458.96" width="2.58" height="7.68" fill="#00d27a"/>
<rect x="219" y="456.25" width="1" height="13.35" fill="#4a7d64"/>
<rect x="217.83" y="457.25" width="4.3" height="11.50" fill="#1c7048"/>
<rect x="218.69" y="458.11" width="2.58" height="9.78" fill="#00d27a"/>
<rect x="226" y="452.10" width="1" height="18.50" fill="#4a7d64"/>
<rect x="224.09" y="452.90" width="4.3" height="13.60" fill="#1c7048"/>
<rect x="224.95" y="453.76" width="2.58" height="11.88" fill="#00d27a"/>
<rect x="232" y="449.40" width="1" height="15.20" fill="#4a7d64"/>
<rect x="230.35" y="449.40" width="4.3" height="11.20" fill="#8a2b25"/>
<rect x="231.21" y="450.26" width="2.58" height="9.48" fill="#ff6a62"/>
<rect x="238" y="439.00" width="1" height="9.40" fill="#4a7d64"/>
<rect x="236.60" y="444.00" width="4.3" height="1.60" fill="#1c7048"/>
<rect x="242.86" y="443.40" width="4.3" height="12.20" fill="#1c7048"/>
<rect x="243.72" y="444.26" width="2.58" height="10.48" fill="#00d27a"/>
<rect x="251" y="446.90" width="1" height="13.50" fill="#4a7d64"/>
<rect x="249.12" y="448.50" width="4.3" height="8.10" fill="#1c7048"/>
<rect x="249.98" y="449.36" width="2.58" height="6.38" fill="#00d27a"/>
<rect x="255.38" y="443.40" width="4.3" height="10.00" fill="#8a2b25"/>
<rect x="256.24" y="444.26" width="2.58" height="8.28" fill="#ff6a62"/>
<rect x="263" y="433.75" width="1" height="11.00" fill="#4a7d64"/>
<rect x="261.64" y="436.50" width="4.3" height="4.75" fill="#8a2b25"/>
<rect x="262.50" y="437.36" width="2.58" height="3.03" fill="#ff6a62"/>
<rect x="269" y="438.10" width="1" height="7.80" fill="#4a7d64"/>
<rect x="267.89" y="438.10" width="4.3" height="2.30" fill="#8a2b25"/>
<rect x="268.75" y="438.96" width="2.58" height="0.58" fill="#ff6a62"/>
<rect x="276" y="426.25" width="1" height="15.85" fill="#4a7d64"/>
<rect x="274.15" y="426.25" width="4.3" height="13.35" fill="#8a2b25"/>
<rect x="275.01" y="427.11" width="2.58" height="11.63" fill="#ff6a62"/>
<rect x="282" y="417.50" width="1" height="11.90" fill="#4a7d64"/>
<rect x="280.41" y="417.50" width="4.3" height="7.25" fill="#8a2b25"/>
<rect x="281.27" y="418.36" width="2.58" height="5.53" fill="#ff6a62"/>
<rect x="288" y="417.75" width="1" height="3.85" fill="#4a7d64"/>
<rect x="286.67" y="419.10" width="4.3" height="2.50" fill="#8a2b25"/>
<rect x="287.53" y="419.96" width="2.58" height="0.78" fill="#ff6a62"/>
<rect x="294" y="414.00" width="1" height="8.50" fill="#4a7d64"/>
<rect x="292.93" y="416.90" width="4.3" height="4.00" fill="#1c7048"/>
<rect x="293.79" y="417.76" width="2.58" height="2.28" fill="#00d27a"/>
<rect x="301" y="415.00" width="1" height="10.60" fill="#4a7d64"/>
<rect x="299.18" y="415.60" width="4.3" height="9.40" fill="#1c7048"/>
<rect x="300.04" y="416.46" width="2.58" height="7.68" fill="#00d27a"/>
<rect x="305.44" y="415.00" width="4.3" height="8.10" fill="#8a2b25"/>
<rect x="306.30" y="415.86" width="2.58" height="6.38" fill="#ff6a62"/>
<rect x="313" y="422.25" width="1" height="12.15" fill="#4a7d64"/>
<rect x="311.70" y="428.10" width="4.3" height="6.30" fill="#8a2b25"/>
<rect x="312.56" y="428.96" width="2.58" height="4.58" fill="#ff6a62"/>
<rect x="319" y="426.25" width="1" height="17.50" fill="#4a7d64"/>
<rect x="317.96" y="427.10" width="4.3" height="16.65" fill="#1c7048"/>
<rect x="318.82" y="427.96" width="2.58" height="14.93" fill="#00d27a"/>
<rect x="326" y="434.00" width="1" height="8.90" fill="#4a7d64"/>
<rect x="324.22" y="434.00" width="4.3" height="6.60" fill="#8a2b25"/>
<rect x="325.08" y="434.86" width="2.58" height="4.88" fill="#ff6a62"/>
<rect x="332" y="438.10" width="1" height="8.50" fill="#4a7d64"/>
<rect x="330.47" y="444.10" width="4.3" height="0.90" fill="#8a2b25"/>
<rect x="338" y="434.00" width="1" height="9.10" fill="#4a7d64"/>
<rect x="336.73" y="434.00" width="4.3" height="6.60" fill="#1c7048"/>
<rect x="337.59" y="434.86" width="2.58" height="4.88" fill="#00d27a"/>
<rect x="342.99" y="425.00" width="4.3" height="2.75" fill="#8a2b25"/>
<rect x="343.85" y="425.86" width="2.58" height="1.03" fill="#ff6a62"/>
<rect x="351" y="419.00" width="1" height="4.75" fill="#4a7d64"/>
<rect x="349.25" y="422.25" width="4.3" height="1.50" fill="#1c7048"/>
<rect x="355.51" y="420.40" width="4.3" height="5.20" fill="#1c7048"/>
<rect x="356.37" y="421.26" width="2.58" height="3.48" fill="#00d27a"/>
<rect x="363" y="419.40" width="1" height="4.00" fill="#4a7d64"/>
<rect x="361.76" y="421.00" width="4.3" height="1.00" fill="#1c7048"/>
<rect x="368.02" y="406.50" width="4.3" height="12.25" fill="#8a2b25"/>
<rect x="368.88" y="407.36" width="2.58" height="10.53" fill="#ff6a62"/>
<rect x="376" y="405.00" width="1" height="6.00" fill="#4a7d64"/>
<rect x="374.28" y="407.50" width="4.3" height="3.50" fill="#8a2b25"/>
<rect x="375.14" y="408.36" width="2.58" height="1.78" fill="#ff6a62"/>
<rect x="382" y="390.70" width="1" height="16.00" fill="#4a7d64"/>
<rect x="380.54" y="391.90" width="4.3" height="13.90" fill="#8a2b25"/>
<rect x="381.40" y="392.76" width="2.58" height="12.18" fill="#ff6a62"/>
<rect x="386.80" y="367.25" width="4.3" height="12.25" fill="#8a2b25"/>
<rect x="387.66" y="368.11" width="2.58" height="10.53" fill="#ff6a62"/>
<rect x="395" y="355.75" width="1" height="21.25" fill="#4a7d64"/>
<rect x="393.05" y="355.75" width="4.3" height="14.00" fill="#8a2b25"/>
<rect x="393.91" y="356.61" width="2.58" height="12.28" fill="#ff6a62"/>
<rect x="401" y="342.00" width="1" height="19.75" fill="#4a7d64"/>
<rect x="399.31" y="349.10" width="4.3" height="2.90" fill="#1c7048"/>
<rect x="400.17" y="349.96" width="2.58" height="1.18" fill="#00d27a"/>
<rect x="407" y="340.10" width="1" height="15.40" fill="#4a7d64"/>
<rect x="405.57" y="351.40" width="4.3" height="4.10" fill="#8a2b25"/>
<rect x="406.43" y="352.26" width="2.58" height="2.38" fill="#ff6a62"/>
<rect x="413" y="345.10" width="1" height="14.80" fill="#4a7d64"/>
<rect x="411.83" y="346.40" width="4.3" height="9.10" fill="#8a2b25"/>
<rect x="412.69" y="347.26" width="2.58" height="7.38" fill="#ff6a62"/>
<rect x="420" y="335.10" width="1" height="13.50" fill="#4a7d64"/>
<rect x="418.09" y="337.00" width="4.3" height="2.90" fill="#1c7048"/>
<rect x="418.95" y="337.86" width="2.58" height="1.18" fill="#00d27a"/>
<rect x="426" y="328.50" width="1" height="8.25" fill="#4a7d64"/>
<rect x="424.34" y="328.50" width="4.3" height="5.10" fill="#8a2b25"/>
<rect x="425.20" y="329.36" width="2.58" height="3.38" fill="#ff6a62"/>
<rect x="432" y="323.40" width="1" height="9.00" fill="#4a7d64"/>
<rect x="430.60" y="323.40" width="4.3" height="7.10" fill="#8a2b25"/>
<rect x="431.46" y="324.26" width="2.58" height="5.38" fill="#ff6a62"/>
<rect x="436.86" y="311.40" width="4.3" height="14.50" fill="#8a2b25"/>
<rect x="437.72" y="312.26" width="2.58" height="12.78" fill="#ff6a62"/>
<rect x="445" y="301.50" width="1" height="9.00" fill="#4a7d64"/>
<rect x="443.12" y="304.25" width="4.3" height="2.85" fill="#8a2b25"/>
<rect x="443.98" y="305.11" width="2.58" height="1.13" fill="#ff6a62"/>
<rect x="451" y="291.10" width="1" height="15.30" fill="#4a7d64"/>
<rect x="449.38" y="293.25" width="4.3" height="13.15" fill="#8a2b25"/>
<rect x="450.24" y="294.11" width="2.58" height="11.43" fill="#ff6a62"/>
<rect x="457" y="288.00" width="1" height="18.50" fill="#4a7d64"/>
<rect x="455.63" y="294.25" width="4.3" height="2.50" fill="#1c7048"/>
<rect x="456.49" y="295.11" width="2.58" height="0.78" fill="#00d27a"/>
<rect x="461.89" y="292.40" width="4.3" height="17.20" fill="#8a2b25"/>
<rect x="462.75" y="293.26" width="2.58" height="15.48" fill="#ff6a62"/>
<rect x="470" y="274.25" width="1" height="14.15" fill="#4a7d64"/>
<rect x="468.15" y="279.50" width="4.3" height="6.00" fill="#1c7048"/>
<rect x="469.01" y="280.36" width="2.58" height="4.28" fill="#00d27a"/>
<rect x="476" y="274.25" width="1" height="15.00" fill="#4a7d64"/>
<rect x="474.41" y="279.25" width="4.3" height="1.25" fill="#8a2b25"/>
<rect x="482" y="273.40" width="1" height="13.00" fill="#4a7d64"/>
<rect x="480.67" y="277.60" width="4.3" height="8.80" fill="#1c7048"/>
<rect x="481.53" y="278.46" width="2.58" height="7.08" fill="#00d27a"/>
<rect x="488" y="264.00" width="1" height="31.10" fill="#4a7d64"/>
<rect x="486.92" y="264.00" width="4.3" height="25.00" fill="#8a2b25"/>
<rect x="487.78" y="264.86" width="2.58" height="23.28" fill="#ff6a62"/>
<rect x="495" y="247.40" width="1" height="9.35" fill="#4a7d64"/>
<rect x="493.18" y="249.25" width="4.3" height="4.65" fill="#8a2b25"/>
<rect x="494.04" y="250.11" width="2.58" height="2.93" fill="#ff6a62"/>
<rect x="501" y="235.60" width="1" height="29.30" fill="#4a7d64"/>
<rect x="499.44" y="237.50" width="4.3" height="3.50" fill="#1c7048"/>
<rect x="500.30" y="238.36" width="2.58" height="1.78" fill="#00d27a"/>
<rect x="507" y="224.10" width="1" height="18.65" fill="#4a7d64"/>
<rect x="505.70" y="240.90" width="4.3" height="1.85" fill="#8a2b25"/>
<rect x="513" y="245.10" width="1" height="43.30" fill="#4a7d64"/>
<rect x="511.96" y="257.10" width="4.3" height="29.40" fill="#1c7048"/>
<rect x="512.82" y="257.96" width="2.58" height="27.68" fill="#00d27a"/>
<rect x="518.21" y="229.40" width="4.3" height="29.60" fill="#8a2b25"/>
<rect x="519.07" y="230.26" width="2.58" height="27.88" fill="#ff6a62"/>
<rect x="526" y="215.00" width="1" height="21.50" fill="#4a7d64"/>
<rect x="524.47" y="215.90" width="4.3" height="19.10" fill="#8a2b25"/>
<rect x="525.33" y="216.76" width="2.58" height="17.38" fill="#ff6a62"/>
<rect x="532" y="226.90" width="1" height="26.70" fill="#4a7d64"/>
<rect x="530.73" y="236.25" width="4.3" height="14.25" fill="#1c7048"/>
<rect x="531.59" y="237.11" width="2.58" height="12.53" fill="#00d27a"/>
<rect x="538" y="257.75" width="1" height="35.65" fill="#4a7d64"/>
<rect x="536.99" y="263.00" width="4.3" height="12.50" fill="#8a2b25"/>
<rect x="537.85" y="263.86" width="2.58" height="10.78" fill="#ff6a62"/>
<rect x="545" y="224.10" width="1" height="9.40" fill="#4a7d64"/>
<rect x="543.25" y="227.60" width="4.3" height="1.20" fill="#1c7048"/>
<rect x="551" y="217.25" width="1" height="12.35" fill="#4a7d64"/>
<rect x="549.50" y="219.40" width="4.3" height="8.70" fill="#1c7048"/>
<rect x="550.36" y="220.26" width="2.58" height="6.98" fill="#00d27a"/>
<rect x="557" y="215.60" width="1" height="18.80" fill="#4a7d64"/>
<rect x="555.76" y="219.40" width="4.3" height="9.60" fill="#8a2b25"/>
<rect x="556.62" y="220.26" width="2.58" height="7.88" fill="#ff6a62"/>
<rect x="563" y="191.00" width="1" height="19.90" fill="#4a7d64"/>
<rect x="562.02" y="191.00" width="4.3" height="16.75" fill="#8a2b25"/>
<rect x="562.88" y="191.86" width="2.58" height="15.03" fill="#ff6a62"/>
<rect x="570" y="180.40" width="1" height="17.10" fill="#4a7d64"/>
<rect x="568.28" y="192.50" width="4.3" height="1.50" fill="#1c7048"/>
<rect x="576" y="165.25" width="1" height="9.50" fill="#4a7d64"/>
<rect x="574.54" y="165.25" width="4.3" height="6.25" fill="#8a2b25"/>
<rect x="575.40" y="166.11" width="2.58" height="4.53" fill="#ff6a62"/>
<rect x="580.79" y="143.50" width="4.3" height="19.30" fill="#8a2b25"/>
<rect x="581.65" y="144.36" width="2.58" height="17.58" fill="#ff6a62"/>
<rect x="589" y="122.90" width="1" height="22.70" fill="#4a7d64"/>
<rect x="587.05" y="128.10" width="4.3" height="9.65" fill="#1c7048"/>
<rect x="587.91" y="128.96" width="2.58" height="7.93" fill="#00d27a"/>
<rect x="595" y="117.10" width="1" height="32.00" fill="#4a7d64"/>
<rect x="593.31" y="117.10" width="4.3" height="20.00" fill="#8a2b25"/>
<rect x="594.17" y="117.96" width="2.58" height="18.28" fill="#ff6a62"/>
<rect x="601" y="87.75" width="1" height="26.05" fill="#4a7d64"/>
<rect x="599.57" y="98.20" width="4.3" height="10.50" fill="#8a2b25"/>
<rect x="600.43" y="99.06" width="2.58" height="8.78" fill="#ff6a62"/>
<rect x="607" y="60.10" width="1" height="34.15" fill="#4a7d64"/>
<rect x="605.83" y="61.10" width="4.3" height="31.50" fill="#8a2b25"/>
<rect x="606.69" y="61.96" width="2.58" height="29.78" fill="#ff6a62"/>
<rect x="614" y="54.00" width="1" height="32.50" fill="#4a7d64"/>
<rect x="612.08" y="71.40" width="4.3" height="8.10" fill="#8a2b25"/>
<rect x="612.94" y="72.26" width="2.58" height="6.38" fill="#ff6a62"/>
<rect x="620" y="82.40" width="1" height="64.10" fill="#4a7d64"/>
<rect x="618.34" y="84.25" width="4.3" height="62.25" fill="#1c7048"/>
<rect x="619.20" y="85.11" width="2.58" height="60.53" fill="#00d27a"/>
<rect x="626" y="165.90" width="1" height="100.70" fill="#4a7d64"/>
<rect x="624.60" y="179.80" width="4.3" height="82.70" fill="#1c7048"/>
<rect x="625.46" y="180.66" width="2.58" height="80.98" fill="#00d27a"/>
<rect x="632" y="159.00" width="1" height="77.60" fill="#4a7d64"/>
<rect x="630.86" y="180.50" width="4.3" height="56.10" fill="#8a2b25"/>
<rect x="631.72" y="181.36" width="2.58" height="54.38" fill="#ff6a62"/>
<rect x="639" y="176.25" width="1" height="37.35" fill="#4a7d64"/>
<rect x="637.12" y="180.50" width="4.3" height="15.90" fill="#8a2b25"/>
<rect x="637.98" y="181.36" width="2.58" height="14.18" fill="#ff6a62"/>
<rect x="645" y="223.25" width="1" height="37.75" fill="#4a7d64"/>
<rect x="643.37" y="233.90" width="4.3" height="1.50" fill="#1c7048"/>
<rect x="651" y="178.75" width="1" height="27.00" fill="#4a7d64"/>
<rect x="649.63" y="189.10" width="4.3" height="2.15" fill="#8a2b25"/>
<rect x="650.49" y="189.96" width="2.58" height="0.43" fill="#ff6a62"/>
<rect x="657" y="154.00" width="1" height="30.50" fill="#4a7d64"/>
<rect x="655.89" y="168.50" width="4.3" height="8.10" fill="#1c7048"/>
<rect x="656.75" y="169.36" width="2.58" height="6.38" fill="#00d27a"/>
<rect x="664" y="173.50" width="1" height="16.00" fill="#4a7d64"/>
<rect x="662.15" y="181.30" width="4.3" height="3.20" fill="#8a2b25"/>
<rect x="663.01" y="182.16" width="2.58" height="1.48" fill="#ff6a62"/>
<rect x="670" y="188.10" width="1" height="23.50" fill="#4a7d64"/>
<rect x="668.41" y="197.00" width="4.3" height="12.40" fill="#8a2b25"/>
<rect x="669.27" y="197.86" width="2.58" height="10.68" fill="#ff6a62"/>
<rect x="676" y="184.75" width="1" height="17.85" fill="#4a7d64"/>
<rect x="674.66" y="186.60" width="4.3" height="6.90" fill="#8a2b25"/>
<rect x="675.52" y="187.46" width="2.58" height="5.18" fill="#ff6a62"/>
<rect x="682" y="159.00" width="1" height="13.50" fill="#4a7d64"/>
<rect x="680.92" y="160.00" width="4.3" height="12.50" fill="#1c7048"/>
<rect x="681.78" y="160.86" width="2.58" height="10.78" fill="#00d27a"/>
<rect x="689" y="123.10" width="1" height="27.80" fill="#4a7d64"/>
<rect x="687.18" y="125.00" width="4.3" height="25.90" fill="#8a2b25"/>
<rect x="688.04" y="125.86" width="2.58" height="24.18" fill="#ff6a62"/>
<rect x="695" y="135.00" width="1" height="20.25" fill="#4a7d64"/>
<rect x="693.44" y="150.80" width="4.3" height="1.00" fill="#8a2b25"/>
<rect x="701" y="139.10" width="1" height="11.80" fill="#4a7d64"/>
<rect x="699.70" y="143.10" width="4.3" height="5.00" fill="#1c7048"/>
<rect x="700.56" y="143.96" width="2.58" height="3.28" fill="#00d27a"/>
<rect x="705.95" y="181.40" width="4.3" height="29.35" fill="#1c7048"/>
<rect x="706.81" y="182.26" width="2.58" height="27.63" fill="#00d27a"/>
<rect x="714" y="171.00" width="1" height="40.90" fill="#4a7d64"/>
<rect x="712.21" y="171.90" width="4.3" height="13.70" fill="#1c7048"/>
<rect x="713.07" y="172.76" width="2.58" height="11.98" fill="#00d27a"/>
<rect x="720" y="155.00" width="1" height="16.90" fill="#4a7d64"/>
<rect x="718.47" y="165.40" width="4.3" height="6.50" fill="#1c7048"/>
<rect x="719.33" y="166.26" width="2.58" height="4.78" fill="#00d27a"/>
<rect x="726" y="179.10" width="1" height="24.40" fill="#4a7d64"/>
<rect x="724.73" y="179.10" width="4.3" height="22.50" fill="#1c7048"/>
<rect x="725.59" y="179.96" width="2.58" height="20.78" fill="#00d27a"/>
<rect x="732" y="201.00" width="1" height="39.40" fill="#4a7d64"/>
<rect x="730.99" y="204.75" width="4.3" height="23.15" fill="#8a2b25"/>
<rect x="731.85" y="205.61" width="2.58" height="21.43" fill="#ff6a62"/>
<rect x="739" y="228.50" width="1" height="23.75" fill="#4a7d64"/>
<rect x="737.24" y="231.40" width="4.3" height="16.50" fill="#8a2b25"/>
<rect x="738.10" y="232.26" width="2.58" height="14.78" fill="#ff6a62"/>
<rect x="745" y="238.90" width="1" height="30.70" fill="#4a7d64"/>
<rect x="743.50" y="253.50" width="4.3" height="16.10" fill="#1c7048"/>
<rect x="744.36" y="254.36" width="2.58" height="14.38" fill="#00d27a"/>
<rect x="751" y="192.25" width="1" height="39.35" fill="#4a7d64"/>
<rect x="749.76" y="198.50" width="4.3" height="24.40" fill="#8a2b25"/>
<rect x="750.62" y="199.36" width="2.58" height="22.68" fill="#ff6a62"/>
<rect x="757" y="182.20" width="1" height="66.40" fill="#4a7d64"/>
<rect x="756.02" y="186.50" width="4.3" height="52.90" fill="#1c7048"/>
<rect x="756.88" y="187.36" width="2.58" height="51.18" fill="#00d27a"/>
<rect x="764" y="208.10" width="1" height="16.65" fill="#4a7d64"/>
<rect x="762.28" y="215.00" width="4.3" height="1.25" fill="#8a2b25"/>
<rect x="770" y="194.10" width="1" height="16.30" fill="#4a7d64"/>
<rect x="768.53" y="202.90" width="4.3" height="4.85" fill="#8a2b25"/>
<rect x="769.39" y="203.76" width="2.58" height="3.13" fill="#ff6a62"/>
<rect x="776" y="178.75" width="1" height="28.15" fill="#4a7d64"/>
<rect x="774.79" y="186.25" width="4.3" height="10.25" fill="#1c7048"/>
<rect x="775.65" y="187.11" width="2.58" height="8.53" fill="#00d27a"/>
<rect x="782" y="125.40" width="1" height="23.60" fill="#4a7d64"/>
<rect x="781.05" y="133.40" width="4.3" height="11.20" fill="#8a2b25"/>
<rect x="781.91" y="134.26" width="2.58" height="9.48" fill="#ff6a62"/>
<rect x="789" y="135.00" width="1" height="16.50" fill="#4a7d64"/>
<rect x="787.31" y="141.25" width="4.3" height="7.75" fill="#1c7048"/>
<rect x="788.17" y="142.11" width="2.58" height="6.03" fill="#00d27a"/>
<rect x="795" y="125.40" width="1" height="10.20" fill="#4a7d64"/>
<rect x="793.57" y="132.25" width="4.3" height="3.35" fill="#1c7048"/>
<rect x="794.43" y="133.11" width="2.58" height="1.63" fill="#00d27a"/>
<rect x="801" y="140.25" width="1" height="15.65" fill="#4a7d64"/>
<rect x="799.82" y="143.50" width="4.3" height="12.40" fill="#8a2b25"/>
<rect x="800.68" y="144.36" width="2.58" height="10.68" fill="#ff6a62"/>
<rect x="808" y="107.50" width="1" height="14.10" fill="#4a7d64"/>
<rect x="806.08" y="117.90" width="4.3" height="1.20" fill="#8a2b25"/>
<rect x="814" y="81.90" width="1" height="19.35" fill="#4a7d64"/>
<rect x="812.34" y="88.40" width="4.3" height="9.40" fill="#1c7048"/>
<rect x="813.20" y="89.26" width="2.58" height="7.68" fill="#00d27a"/>
<rect x="820" y="74.00" width="1" height="16.80" fill="#4a7d64"/>
<rect x="818.60" y="74.70" width="4.3" height="13.70" fill="#8a2b25"/>
<rect x="819.46" y="75.56" width="2.58" height="11.98" fill="#ff6a62"/>
<rect x="826" y="74.10" width="1" height="11.60" fill="#4a7d64"/>
<rect x="824.86" y="74.60" width="4.3" height="5.80" fill="#1c7048"/>
<rect x="825.72" y="75.46" width="2.58" height="4.08" fill="#00d27a"/>
</g>
<rect x="1215" y="20.9" width="11.7" height="11.8" fill="#dcdcdc"/>
<path d="M1220.9 23.2 l2.2 2.6 h-1.5 v3.4 h1.5 l-2.2 2.6 l-2.2 -2.6 h1.5 v-3.4 h-1.5 z" fill="#fff"/>
<line x1="1222" y1="-2.5" x2="1222" y2="568" stroke="#bdbdbd" stroke-width="1.5" stroke-dasharray="4.3 5.3"/>
<line x1="1222" y1="568.8" x2="1222" y2="740" stroke="#bdbdbd" stroke-width="1.5" stroke-dasharray="4.3 5.3"/>
<rect x="0" y="567.75" width="1280" height="1.1" fill="#848484"/>
<rect x="0" y="740" width="1233" height="1" fill="#7d7d7d"/>
<rect x="1232" y="0" width="1.05" height="741" fill="#707070"/>
<rect x="1233" y="542.10" width="2.4" height="1" fill="#808080"/>
<text class="ax" x="1238.2" y="546.00">3400.00</text>
<rect x="1233" y="509.00" width="2.4" height="1" fill="#808080"/>
<text class="ax" x="1238.2" y="512.90">3600.00</text>
<rect x="1233" y="475.90" width="2.4" height="1" fill="#808080"/>
<text class="ax" x="1238.2" y="479.80">3800.00</text>
<rect x="1233" y="442.80" width="2.4" height="1" fill="#808080"/>
<text class="ax" x="1238.2" y="446.70">4000.00</text>
<rect x="1233" y="409.70" width="2.4" height="1" fill="#808080"/>
<text class="ax" x="1238.2" y="413.60">4200.00</text>
<rect x="1233" y="376.60" width="2.4" height="1" fill="#808080"/>
<text class="ax" x="1238.2" y="380.50">4400.00</text>
<rect x="1233" y="343.50" width="2.4" height="1" fill="#808080"/>
<text class="ax" x="1238.2" y="347.40">4600.00</text>
<rect x="1233" y="310.40" width="2.4" height="1" fill="#808080"/>
<text class="ax" x="1238.2" y="314.30">4800.00</text>
<rect x="1233" y="277.30" width="2.4" height="1" fill="#808080"/>
<text class="ax" x="1238.2" y="281.20">5000.00</text>
<rect x="1233" y="244.20" width="2.4" height="1" fill="#808080"/>
<text class="ax" x="1238.2" y="248.10">5200.00</text>
<rect x="1233" y="211.10" width="2.4" height="1" fill="#808080"/>
<text class="ax" x="1238.2" y="215.00">5400.00</text>
<rect x="1233" y="178.00" width="2.4" height="1" fill="#808080"/>
<text class="ax" x="1238.2" y="181.90">5600.00</text>
<rect x="1233" y="144.90" width="2.4" height="1" fill="#808080"/>
<text class="ax" x="1238.2" y="148.80">5800.00</text>
<rect x="1233" y="111.80" width="2.4" height="1" fill="#808080"/>
<text class="ax" x="1238.2" y="115.70">6000.00</text>
<rect x="1233" y="78.70" width="2.4" height="1" fill="#808080"/>
<text class="ax" x="1238.2" y="82.60">6200.00</text>
<rect x="1233" y="45.60" width="2.4" height="1" fill="#808080"/>
<text class="ax" x="1238.2" y="49.50">6400.00</text>
<rect x="1233" y="12.50" width="2.4" height="1" fill="#808080"/>
<text class="ax" x="1238.2" y="16.40">6600.00</text>
<rect x="1233" y="598.00" width="2.4" height="1" fill="#808080"/>
<text class="ax" x="1238.2" y="601.90">1.6B</text>
<rect x="1233" y="631.00" width="2.4" height="1" fill="#808080"/>
<text class="ax" x="1238.2" y="634.90">1.2B</text>
<rect x="1233" y="663.80" width="2.4" height="1" fill="#808080"/>
<text class="ax" x="1238.2" y="667.70">800M</text>
<rect x="1233" y="697.70" width="2.4" height="1" fill="#808080"/>
<text class="ax" x="1238.2" y="701.60">400M</text>
<rect x="1233" y="730.70" width="2.4" height="1" fill="#808080"/>
<text class="ax" x="1238.2" y="734.60">0</text>
<rect x="1233" y="2.1" width="43" height="12.7" fill="#575757"/><rect x="1233" y="7.8" width="3" height="1" fill="#fff"/>
<text class="axb" x="1237.8" y="11.9">6629.89</text>
<rect x="1232.3" y="73.9" width="43.6" height="13.5" fill="#4a6fe3"/><rect x="1233" y="79.9" width="3" height="1" fill="#fff"/>
<text class="axb" x="1237.9" y="84.1" style="font-size:9.9px" textLength="33.9" lengthAdjust="spacingAndGlyphs">6191.92</text>
<rect x="1233" y="642" width="47" height="12.6" fill="#000"/><rect x="1233" y="647.8" width="3" height="1" fill="#fff"/>
<text class="axb" x="1238.2" y="651.7">995.139M</text>
<rect x="1233" y="668.9" width="47" height="12.6" fill="#1fc97b"/><rect x="1233" y="674.7" width="3" height="1" fill="#fff"/>
<text class="axb" x="1238.2" y="678.6">680.214M</text>
<rect x="8.0" y="741" width="1" height="3" fill="#777"/>
<text class="tm" x="8.5" y="753.3">10月</text>
<rect x="126.0" y="741" width="1" height="3" fill="#777"/>
<text class="tm" x="126.5" y="753.3">11月</text>
<rect x="251.8" y="741" width="1" height="3" fill="#777"/>
<text class="tm" x="252.3" y="753.3">12月</text>
<rect x="382.9" y="741" width="1" height="3" fill="#777"/>
<text class="tm" x="383.4" y="753.3">2026</text>
<rect x="514.5" y="741" width="1" height="3" fill="#777"/>
<text class="tm" x="515.0" y="753.3">2月</text>
<rect x="621.0" y="741" width="1" height="3" fill="#777"/>
<text class="tm" x="621.5" y="753.3">3月</text>
<rect x="752.0" y="741" width="1" height="3" fill="#777"/>
<text class="tm" x="752.5" y="753.3">4月</text>
<rect x="820.8" y="741" width="1" height="3" fill="#777"/>
<text class="tm" x="821.3" y="753.3">16</text>
<rect x="888.0" y="741" width="1" height="3" fill="#777"/>
<text class="tm" x="888.5" y="753.3">5月</text>
<rect x="1020.7" y="741" width="1" height="3" fill="#777"/>
<text class="tm" x="1021.2" y="753.3">6月</text>
<rect x="1090.0" y="741" width="1" height="3" fill="#777"/>
<text class="tm" x="1090.5" y="753.3">16</text>
<rect x="1158.5" y="741" width="1" height="3" fill="#777"/>
<text class="tm" x="1159.0" y="753.3">7月</text>
<rect x="1176.3" y="741" width="55.2" height="14" fill="#575757"/><rect x="1221.5" y="741" width="1" height="3" fill="#fff"/>
<text class="axb" x="1204" y="752.9" text-anchor="middle" style="font-size:9.8px">2026-07-15</text>
<polygon points="833.75,69.4 857.75,60.25 856.9,67.75 938.3,77.25 938.3,84.75 855.6,75.6 855,82.75" fill="#5b9bd5"/>
<g class="box">
<rect x="1200.2" y="20.7" width="12" height="3" fill="#e0e0e0"/>
<rect x="938.3" y="22" width="274.5" height="171.5" fill="#d9d9d9"/>
<text x="950" y="49.7" style="font-size:26px;stroke:#000;stroke-width:0.3px" textLength="245.5" lengthAdjust="spacingAndGlyphs">2026<tspan class="k" style="font-size:27px">年</tspan>04<tspan class="k" style="font-size:27px">月</tspan>17<tspan class="k" style="font-size:27px">日</tspan>(<tspan class="k" style="font-size:27px">金</tspan>)</text>
<text x="947.5" y="70.1" style="font-size:15.5px;fill:#3a3a3a" textLength="191.5" lengthAdjust="spacingAndGlyphs">(2026<tspan class="k">年</tspan>04<tspan class="k">月</tspan>17<tspan class="k">日</tspan> 15:31<tspan class="k">現在</tspan>)</text>
<text x="949.7" y="96.8" style="font-size:27px;stroke:#000;stroke-width:0.35px" class="k" textLength="55.2" lengthAdjust="spacingAndGlyphs">始値</text><text x="1009.5" y="96.8" style="font-size:25px" fill="#000">:</text><text x="1021" y="96.8" style="font-size:25px;fill:#000;stroke:#000;stroke-width:0.3px" textLength="97.5" lengthAdjust="spacingAndGlyphs">6,227.33</text>
<text x="949.7" y="126" style="font-size:27px;stroke:#000;stroke-width:0.35px" class="k" textLength="55.2" lengthAdjust="spacingAndGlyphs">高値</text><text x="1009.5" y="126" style="font-size:25px" fill="#000">:</text><text x="1021" y="126" style="font-size:25px;fill:#c00000;stroke:#c00000;stroke-width:0.3px" textLength="97.5" lengthAdjust="spacingAndGlyphs">6,230.32</text>
<text x="949.7" y="155" style="font-size:27px;stroke:#000;stroke-width:0.35px" class="k" textLength="55.2" lengthAdjust="spacingAndGlyphs">安値</text><text x="1009.5" y="155" style="font-size:25px" fill="#000">:</text><text x="1021" y="155" style="font-size:25px;fill:#000;stroke:#000;stroke-width:0.3px" textLength="97.5" lengthAdjust="spacingAndGlyphs">6,159.88</text>
<text x="949.7" y="184.3" style="font-size:27px;stroke:#000;stroke-width:0.35px" class="k" textLength="55.2" lengthAdjust="spacingAndGlyphs">終値</text><text x="1009.5" y="184.3" style="font-size:25px" fill="#000">:</text><text x="1021" y="184.3" style="font-size:25px;fill:#c00000;stroke:#c00000;stroke-width:0.3px" textLength="97.5" lengthAdjust="spacingAndGlyphs">6,191.92</text>
</g>
<rect x="4.5" y="8.5" width="10" height="10" rx="1.5" fill="none" stroke="#9a9a9a" stroke-width="1"/><rect x="5" y="13" width="9" height="1" fill="#9a9a9a"/>
<text class="lg" x="20.6" y="18.4" textLength="129.2" lengthAdjust="spacingAndGlyphs">KOSPI, South Korea,</text>
<text class="lg" x="156.6" y="18.9" style="stroke-width:0.1px">日</text><text class="lg" x="170.6" y="18.4">,</text>
<text class="lg" x="181.2" y="18.9" style="stroke-width:0.1px" textLength="42.6" lengthAdjust="spacingAndGlyphs">ソウル</text>
<path d="M228 12 h5.8 l-2.9 2.6 z" fill="#c4c4c4"/>
<rect x="243.2" y="7.9" width="11.7" height="11.9" fill="#d9d9d9"/><rect x="258" y="7.9" width="11.8" height="11.9" fill="#d9d9d9"/>
<ellipse cx="249.05" cy="13.75" rx="3.7" ry="3.1" fill="none" stroke="#fff" stroke-width="1.3"/><circle cx="249.05" cy="13.75" r="1.0" fill="#fff"/>
<polygon points="262.70,10.69 262.91,9.41 264.39,9.41 264.60,10.69 265.14,10.92 266.19,10.16 267.24,11.21 266.48,12.26 266.71,12.80 267.99,13.01 267.99,14.49 266.71,14.70 266.48,15.24 267.24,16.29 266.19,17.34 265.14,16.58 264.60,16.81 264.39,18.09 262.91,18.09 262.70,16.81 262.16,16.58 261.11,17.34 260.06,16.29 260.82,15.24 260.59,14.70 259.31,14.49 259.31,13.01 260.59,12.80 260.82,12.26 260.06,11.21 261.11,10.16 262.16,10.92" fill="#fff"/><circle cx="263.65" cy="13.75" r="1.5" fill="#d9d9d9"/>
<text class="lgk" x="276" y="19.5" textLength="25" lengthAdjust="spacingAndGlyphs">始値</text><text class="lgv" x="303" y="18.2" textLength="44.3" lengthAdjust="spacingAndGlyphs">6227.33</text>
<text class="lgk" x="356.5" y="19.5" textLength="25" lengthAdjust="spacingAndGlyphs">高値</text><text class="lgv" x="383" y="18.2" textLength="44.3" lengthAdjust="spacingAndGlyphs">6230.32</text>
<text class="lgk" x="436.5" y="19.5" textLength="25" lengthAdjust="spacingAndGlyphs">安値</text><text class="lgv" x="463" y="18.2" textLength="44.3" lengthAdjust="spacingAndGlyphs">6159.88</text>
<text class="lgk" x="515.3" y="19.5" textLength="25" lengthAdjust="spacingAndGlyphs">終値</text><text class="lgv" x="542" y="18.2" textLength="44.3" lengthAdjust="spacingAndGlyphs">6191.92</text>
<text x="11.5" y="553.8" style="font-size:17.8px;font-weight:bold;fill:#111;stroke:#111;stroke-width:0.55px" textLength="76.5" lengthAdjust="spacingAndGlyphs">Investing</text>
<text x="88.3" y="553.8" style="font-size:12.5px;fill:#666" textLength="26.3" lengthAdjust="spacingAndGlyphs">.com</text>
<rect x="61.8" y="538.6" width="4.6" height="3.9" fill="#fff"/><path d="M62.3 542.4 L64.4 539.3 L66.3 540.4 L64.5 542.9 Z" fill="#f7a21b"/>
<text x="4.6" y="585" style="font-size:10.4px;fill:#555" textLength="51.5" lengthAdjust="spacingAndGlyphs">出来高 (20)</text>
<path d="M60.6 580 h5.7 l-2.85 2.6 z" fill="#c4c4c4"/>
<rect x="75.6" y="575.6" width="12" height="11.9" fill="#d9d9d9"/>
<rect x="90" y="575.6" width="12" height="11.9" fill="#d9d9d9"/>
<rect x="104.8" y="575.6" width="12" height="11.9" fill="#d9d9d9"/>
<ellipse cx="81.6" cy="581.55" rx="3.7" ry="3.1" fill="none" stroke="#fff" stroke-width="1.3"/><circle cx="81.6" cy="581.55" r="1.0" fill="#fff"/>
<polygon points="95.05,578.49 95.26,577.21 96.74,577.21 96.95,578.49 97.49,578.72 98.54,577.96 99.59,579.01 98.83,580.06 99.06,580.60 100.34,580.81 100.34,582.29 99.06,582.50 98.83,583.04 99.59,584.09 98.54,585.14 97.49,584.38 96.95,584.61 96.74,585.89 95.26,585.89 95.05,584.61 94.51,584.38 93.46,585.14 92.41,584.09 93.17,583.04 92.94,582.50 91.66,582.29 91.66,580.81 92.94,580.60 93.17,580.06 92.41,579.01 93.46,577.96 94.51,578.72" fill="#fff"/><circle cx="96" cy="581.55" r="1.5" fill="#d9d9d9"/>
<path d="M106.6 577.4 L115 585.7 M115 577.4 L106.6 585.7" stroke="#fff" stroke-width="1.3" fill="none"/>
<text x="123.8" y="584.8" style="font-size:10.3px;fill:#1fc97b;stroke:#1fc97b;stroke-width:0.4px" textLength="43.5" lengthAdjust="spacingAndGlyphs">680.214M</text>
<text x="176" y="584.8" style="font-size:10.3px;fill:#333;stroke:#333;stroke-width:0.4px" textLength="43.5" lengthAdjust="spacingAndGlyphs">995.139M</text>
<line x1="0.35" y1="8.3" x2="1232" y2="8.3" stroke="#a8a8a8" stroke-width="1" stroke-dasharray="4.4 5.05"/>
</svg></body></html>
